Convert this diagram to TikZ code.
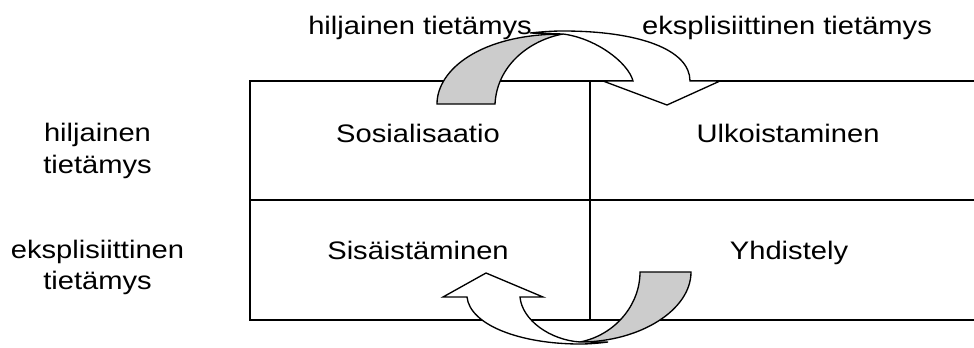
\documentclass[tikz,border=0pt]{standalone}
\usepackage{fontspec}
\setmainfont{Liberation Sans}
\usepackage{graphicx}
\definecolor{greyfill}{RGB}{204,204,204}
\newcommand{\wtxt}[1]{\scalebox{1.15}[1]{#1}}
\newcommand{\twoline}[2]{\scalebox{1.15}[1]{\begin{tabular}{@{}c@{}}#1\\#2\end{tabular}}}
\begin{document}
\begin{tikzpicture}[x=0.75pt,y=-0.75pt,
  every node/.style={inner sep=0pt, outer sep=0pt, font=\fontsize{19}{23.6}\selectfont},
  lbl/.style={anchor=base},
  tbl/.style={line width=1.5pt},
  backband/.style={draw=black, fill=greyfill, line width=1pt, line join=miter},
  frontband/.style={draw=black, fill=white, line width=1pt, line join=miter}]
\useasboundingbox (0,0) rectangle (974,347);
% top labels
\node[lbl] (toph) at (420,34) {\wtxt{hiljainen tietämys}};
\node[lbl] (tope) at (787,34) {\wtxt{eksplisiittinen tietämys}};
% left labels
\node (lefth) at (97.5,151.2) {\twoline{hiljainen}{tietämys}};
\node (lefte) at (97.5,267.8) {\twoline{eksplisiittinen}{tietämys}};
% cells
\node[lbl] (soc) at (418,142.5) {\wtxt{Sosialisaatio}};
\node[lbl] (ulk) at (788,142.5) {\wtxt{Ulkoistaminen}};
\node[lbl] (sis) at (418,259) {\wtxt{Sisäistäminen}};
\node[lbl] (yhd) at (789,259) {\wtxt{Yhdistely}};
% table lines
\draw[tbl] (974,81) -- (250,81) -- (250,320) -- (974,320);
\draw[tbl] (250,200) -- (974,200);
\draw[tbl] (590,81) -- (590,320);
% top curved arrow
\path[backband] (437,104) .. controls (437,70) and (480,34) .. (563,34)
  .. controls (530,40) and (497,65) .. (495,104) -- cycle;
\path[frontband] (633,81) -- (603,81) -- (667,105) -- (720,81) -- (690,81)
  .. controls (690,50) and (640,31) .. (563,31)
  .. controls (550,31) and (540,32) .. (530,33) -- (563,34)
  .. controls (595,38) and (628,62) .. (633,81) -- cycle;
% bottom curved arrow
\path[backband] (640,272) -- (691,272) .. controls (691,310) and (640,342) .. (580,342)
  .. controls (615,335) and (640,305) .. (640,272) -- cycle;
\path[frontband] (520,297) -- (543,297) -- (486,273) -- (443,297) -- (467,297)
  .. controls (470,325) and (520,344) .. (580,344)
  .. controls (590,344) and (600,343) .. (608,342) -- (580,342)
  .. controls (550,340) and (522,320) .. (520,297) -- cycle;
\end{tikzpicture}
\end{document}
